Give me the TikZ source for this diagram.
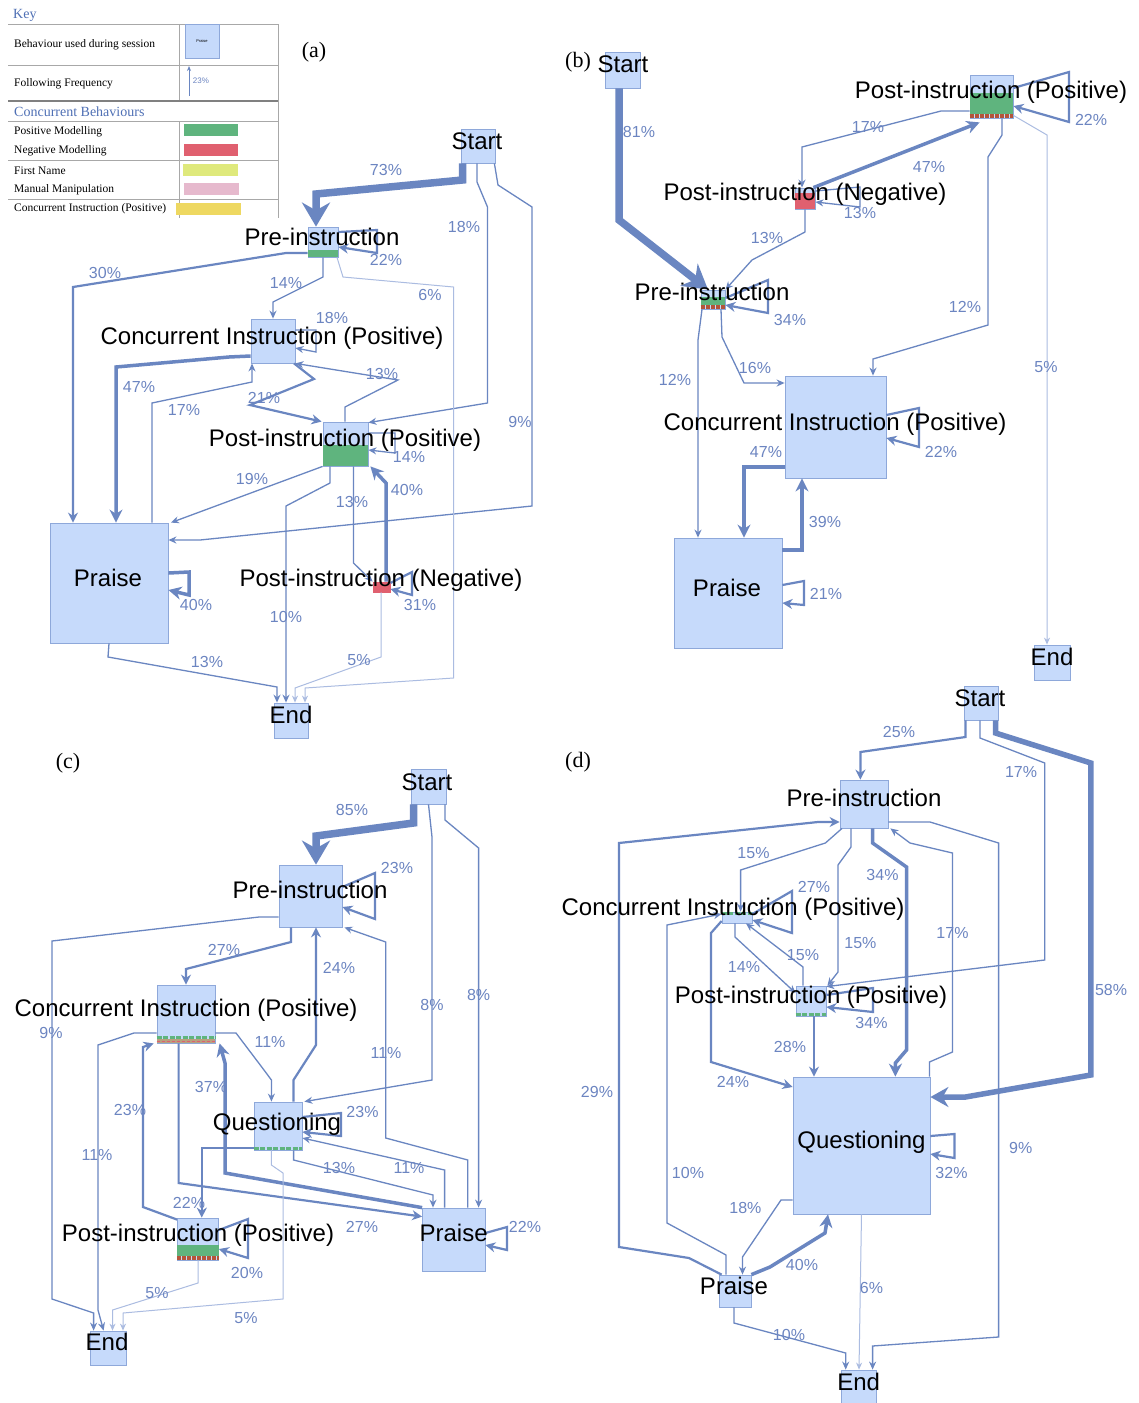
\documentclass[tikz,border=0pt]{standalone}
\usepackage{fontspec}
\setmainfont{Liberation Serif}
\newfontfamily\diagfont{Liberation Sans}
\usepackage{xcolor}
\usepackage{tikz}
\usetikzlibrary{
  arrows.meta
}
\definecolor{BoxFill}{HTML}{C6DAFB}
\definecolor{BoxLine}{HTML}{8EA8DA}
\definecolor{FlowBlue}{HTML}{6A86C1}
\definecolor{FlowLight}{HTML}{ABBCE1}
\definecolor{PctBlue}{HTML}{6C85C1}
\definecolor{KeyBlue}{HTML}{4F70B5}
\definecolor{PosGreen}{HTML}{5FB47E}
\definecolor{NegRed}{HTML}{E0606F}
\definecolor{DotBrown}{HTML}{B4553A}
\definecolor{TanBrown}{HTML}{B9A07E}
\definecolor{NameYellow}{HTML}{DFE97C}
\definecolor{ManualPink}{HTML}{E6B9CD}
\definecolor{CIYellow}{HTML}{EED861}
\definecolor{RuleGray}{HTML}{A8A8A8}
\tikzset{
  behaviour/.style={
    draw=BoxLine,
    fill=BoxFill,
    line width=0.8pt,
    inner sep=0pt
  },
  bname/.style={
    font=\diagfont\fontsize{24}{24}\selectfont,
    inner sep=0pt,
    text height=17pt,
    text depth=0pt
  },
  pct/.style={
    font=\diagfont\fontsize{16}{16}\selectfont,
    text=PctBlue,
    inner sep=0pt,
    text height=11.5pt,
    text depth=0pt
  },
  tag/.style={
    font=\fontsize{22}{22}\selectfont,
    inner sep=0pt
  },
  keytext/.style={
    font=\fontsize{11.5}{11.5}\selectfont,
    anchor=west,
    inner sep=0pt
  },
  keyhead/.style={
    font=\fontsize{14}{14}\selectfont,
    text=KeyBlue,
    anchor=west,
    inner sep=0pt
  },
  flowlight/.style={
    draw=FlowLight,
    line width=1pt,
    -{Stealth[length=7pt,width=6pt]}
  },
  flowthin/.style={
    draw=FlowBlue,
    line width=1.3pt,
    -{Stealth[length=8pt,width=7pt]}
  },
  flow/.style={
    draw=FlowBlue,
    line width=2.2pt,
    -{Stealth[length=10pt,width=10pt]}
  },
  flowthick/.style={
    draw=FlowBlue,
    line width=3.5pt,
    -{Stealth[length=13pt,width=13pt]}
  },
  flowbig/.style={
    draw=FlowBlue,
    line width=5.5pt,
    -{Stealth[length=18pt,width=20pt]}
  },
  flowheavy/.style={
    draw=FlowBlue,
    line width=7.5pt,
    -{Stealth[length=24pt,width=28pt]}
  },
  posbar/.style={
    fill=PosGreen
  },
  posdash/.style={
    draw=PosGreen,
    line width=2.5pt,
    dash pattern=on 5pt off 1.5pt
  },
  dotrule/.style={
    draw=DotBrown,
    line width=4pt,
    dash pattern=on 4pt off 1pt
  }
}

\begin{document}
\begin{tikzpicture}[x=1pt, y=-1pt]

  \path[use as bounding box, fill=white] (0,0) rectangle (1138,1403);

  % key
  \node[keyhead] (keyTitle) at (13,15) {Key};
  \draw[RuleGray, line width=0.8pt]
  (8,24) -- (278,24)
  (8,65) -- (278,65)
  (8,121) -- (278,121)
  (8,160) -- (278,160)
  (8,199) -- (278,199)
  (179,24) -- (179,101)
  (179,121) -- (179,218)
  (278,24) -- (278,218);
  \draw[gray, line width=1.6pt] (8,101) -- (278,101);
  \node[keytext] (keyBeh) at (14,45) {Behaviour used during session};
  \node[keytext] (keyFreq) at (14,84) {Following Frequency};
  \node[keyhead] (keyConc) at (14,112) {Concurrent Behaviours};
  \node[keytext] (keyPosM) at (14,132) {Positive Modelling};
  \node[keytext] (keyNegM) at (14,151) {Negative Modelling};
  \node[keytext] (keyFirst) at (14,171) {First Name};
  \node[keytext] (keyManual) at (14,190) {Manual Manipulation};
  \node[keytext] (keyCI) at (14,209) {Concurrent Instruction (Positive)};
  \node[
    behaviour,
    minimum width=34,
    minimum height=34,
    font=\diagfont\fontsize{4}{4}\selectfont
  ] (keyBox) at (202,41) {Praise};
  \coordinate (keyTail) at (189,96);
  \coordinate (keyHead) at (189,66);
  \draw[
    flowthin,
    line width=1pt,
    -{Stealth[length=5pt,width=4pt]}
  ]
  (keyTail) -- (keyHead)
  node[pct, font=\diagfont\fontsize{8}{8}\selectfont, text height=6pt] at (201,80) {23\%};
  \fill[PosGreen] (184,124) rectangle (238,136);
  \fill[NegRed] (184,144) rectangle (238,156);
  \fill[NameYellow] (183,164) rectangle (238,176);
  \fill[ManualPink] (184,183) rectangle (239,195);
  \fill[CIYellow] (176,203) rectangle (241,215);

  % panel (a)
  \node[tag] (aTag) at (314,52) {(a)};
  \node[
    behaviour,
    minimum width=34,
    minimum height=34
  ] (aStart) at (478,146) {};
  \node[
    behaviour,
    minimum width=30,
    minimum height=30
  ] (aPre) at (323,242) {};
  \node[
    behaviour,
    minimum width=44,
    minimum height=44
  ] (aCI) at (273,341) {};
  \node[
    behaviour,
    minimum width=45,
    minimum height=44
  ] (aPostP) at (345.5,444) {};
  \node[
    behaviour,
    minimum width=118,
    minimum height=120
  ] (aPraise) at (109,583) {};
  \node[
    behaviour,
    draw=NegRed,
    fill=NegRed,
    minimum width=17,
    minimum height=10
  ] (aPostN) at (381.5,587) {};
  \node[
    behaviour,
    minimum width=34,
    minimum height=35
  ] (aEnd) at (291,720.5) {};
  \fill[posbar] (aPre.south west) rectangle ([yshift=7pt]aPre.south east);
  \fill[posbar] (aPostP.south west) rectangle ([yshift=21pt]aPostP.south east);

  \draw[flowheavy]
  (462.5,0 |- aStart.south) -- (462.5,180) -- (316,194) --
  (316,0 |- aPre.north)
  node[pct] at (386,170) {73\%};
  \draw[flowthin]
  (477,0 |- aStart.south) -- (477,182) -- (487.5,207) -- (487.5,403) --
  ([yshift=-1pt]aPostP.north east)
  node[pct] at (464,227) {18\%};
  \draw[flowthin]
  ([xshift=-1pt]aStart.south east) -- (498,185) -- (532,207) -- (532,506) -- (200,540) --
  (aPraise.east |- 0,540)
  node[pct] at (520,422) {9\%};
  \draw[flow]
  (aPre.east |- 0,232) -- (377,230) -- (377,253) --
  (aPre.east |- 0,247)
  node[pct] at (386,260) {22\%};
  \draw[flow]
  (aPre.west |- 0,253) -- (286,253) -- (73,287) --
  (73,0 |- aPraise.north)
  node[pct] at (105,273) {30\%};
  \draw[flowthin]
  (323,0 |- aPre.south) -- (323,277) -- (273,302) --
  (273,0 |- aCI.north)
  node[pct] at (286,283) {14\%};
  \draw[flowlight]
  (337,0 |- aPre.south) -- (343,277) -- (453.5,287) -- (453.5,678) -- (305,688) --
  (305,0 |- aEnd.north)
  node[pct] at (430,295) {6\%};
  \draw[flowthin]
  (aCI.east |- 0,330) -- (316,330) -- (316,352) --
  (aCI.east |- 0,348)
  node[pct] at (332,318) {18\%};
  \draw[flowthick]
  (aCI.west |- 0,356) -- (229,357) -- (116,367) --
  (116,0 |- aPraise.north)
  node[pct] at (139,387) {47\%};
  \draw[flowthin]
  (152,0 |- aPraise.north) -- (152,403) -- (252,382) --
  (252,0 |- aCI.south)
  node[pct] at (184,410) {17\%};
  \draw[flow]
  (294,0 |- aCI.south) -- (314,379) -- (250,405) --
  ([xshift=-1pt]aPostP.north west)
  node[pct] at (264,398) {21\%};
  \draw[flowthin]
  (345,0 |- aPostP.north) -- (345,407) -- (398,380) --
  (aCI.south east)
  node[pct] at (382,374) {13\%};
  \draw[flowthin]
  (aPostP.east |- 0,433) -- (395,433) -- (395,453) --
  (aPostP.east |- 0,450)
  node[pct] at (409,457) {14\%};
  \draw[flowthin]
  (aPostP.south west) --
  (171,0 |- aPraise.north)
  node[pct] at (252,479) {19\%};
  \draw[flowthin]
  (330,0 |- aPostP.south) -- (330,483) -- (286,506) --
  (286,0 |- aEnd.north)
  node[pct] at (286,617) {10\%};
  \draw[flowthin]
  (353.5,0 |- aPostP.south) -- (353.5,563) --
  (aPostN.north west)
  node[pct] at (352,502) {13\%};
  \draw[flowthick]
  (386,0 |- aPostN.north) -- (386,483) --
  ([xshift=2pt]aPostP.south east)
  node[pct] at (407,490) {40\%};
  \draw[flow]
  (aPostN.east |- 0,583) -- (412,572) -- (412,595) --
  (aPostN.east |- 0,589)
  node[pct] at (420,605) {31\%};
  \draw[flowlight]
  (381,0 |- aPostN.south) -- (381,657) -- (295,688) --
  (295,0 |- aEnd.north)
  node[pct] at (359,660) {5\%};
  \draw[flowthick]
  (aPraise.east |- 0,573) -- (189,572) -- (189,595) --
  (aPraise.east |- 0,590)
  node[pct] at (196,605) {40\%};
  \draw[flowthin]
  (aPraise.south) -- (108,657) -- (277,687) --
  (277,0 |- aEnd.north)
  node[pct] at (207,662) {13\%};

  \node[bname] (aStartName) at (477,141) {Start};
  \node[bname] (aPreName) at (322,237) {Pre-instruction};
  \node[bname] (aCIName) at (272,336) {Concurrent Instruction (Positive)};
  \node[bname] (aPostPName) at (345,438) {Post-instruction (Positive)};
  \node[bname] (aPraiseName) at (108,578) {Praise};
  \node[bname] (aPostNName) at (381,578) {Post-instruction (Negative)};
  \node[bname] (aEndName) at (291,715) {End};

  % panel (b)
  \node[tag] (bTag) at (578,62) {(b)};
  \node[
    behaviour,
    minimum width=35,
    minimum height=36
  ] (bStart) at (622.5,70) {};
  \node[
    behaviour,
    minimum width=43,
    minimum height=43
  ] (bPostP) at (991.5,96.5) {};
  \node[
    behaviour,
    minimum width=20,
    minimum height=21
  ] (bPostN) at (805,198.5) {};
  \node[
    behaviour,
    minimum width=24,
    minimum height=19
  ] (bPre) at (713,299.5) {};
  \node[
    behaviour,
    minimum width=101,
    minimum height=102
  ] (bCI) at (835.5,427) {};
  \node[
    behaviour,
    minimum width=108,
    minimum height=110
  ] (bPraise) at (728,593) {};
  \node[
    behaviour,
    minimum width=36,
    minimum height=35
  ] (bEnd) at (1052,662.5) {};
  \fill[posbar] ([yshift=4pt]bPostP.south west) rectangle ([yshift=25pt]bPostP.south east);
  \draw[dotrule] ([yshift=2pt]bPostP.south west) -- ([yshift=2pt]bPostP.south east);
  \fill[NegRed] (bPostN.south west) rectangle ([yshift=16pt]bPostN.south east);
  \fill[posbar] ([yshift=4pt]bPre.south west) rectangle ([yshift=12pt]bPre.south east);
  \draw[dotrule] ([yshift=2pt]bPre.south west) -- ([yshift=2pt]bPre.south east);

  \draw[flowheavy]
  (619,0 |- bStart.south) -- (619,220) --
  ([xshift=-5pt]bPre.north)
  node[pct] at (639,132) {81\%};
  \draw[flowthin]
  (bPostP.west |- 0,111) -- (941,111) -- (802,147) --
  (802,0 |- bPostN.north)
  node[pct] at (868,127) {17\%};
  \draw[flowthick]
  ([xshift=-2pt]bPostN.north east) --
  ([xshift=10pt,yshift=-4pt]bPostP.south west)
  node[pct] at (929,167) {47\%};
  \draw[flow]
  (bPostP.east |- 0,88) -- (1069,72) -- (1069,122) --
  (bPostP.east |- 0,106)
  node[pct] at (1091,120) {22\%};
  \draw[flowthin]
  (bPostN.east |- 0,191) -- (860,187) -- (860,207) --
  (bPostN.east |- 0,202)
  node[pct] at (860,213) {13\%};
  \draw[flowthin]
  (805,0 |- bPostN.south) -- (805,232) -- (752,260) --
  (bPre.north east)
  node[pct] at (767,238) {13\%};
  \draw[flow]
  (bPre.east |- 0,298) -- (768,280) -- (768,313) --
  (bPre.east |- 0,305)
  node[pct] at (790,320) {34\%};
  \draw[flowthin]
  (1002,0 |- bPostP.south) -- (1002,135) -- (988,157) -- (988,325) -- (873,359) --
  (873,0 |- bCI.north)
  node[pct] at (965,307) {12\%};
  \draw[flowlight]
  ([yshift=3pt]bPostP.south east) -- (1047,135) --
  (1047,0 |- bEnd.north)
  node[pct] at (1046,367) {5\%};
  \draw[flowthin]
  (702,0 |- bPre.south) -- (698,340) --
  (698,0 |- bPraise.north)
  node[pct] at (675,380) {12\%};
  \draw[flowthin]
  (721,0 |- bPre.south) -- (722,337) -- (744,383) --
  (bCI.west |- 0,383)
  node[pct] at (755,368) {16\%};
  \draw[flow]
  (bCI.east |- 0,415) -- (919,408) -- (919,447) --
  (bCI.east |- 0,438)
  node[pct] at (941,452) {22\%};
  \draw[flowthick]
  (bCI.west |- 0,467) -- (744,467) --
  (744,0 |- bPraise.north)
  node[pct] at (766,452) {47\%};
  \draw[flowthick]
  (bPraise.east |- 0,550) -- (802,550) --
  (802,0 |- bCI.south)
  node[pct] at (825,522) {39\%};
  \draw[flow]
  (bPraise.east |- 0,585) -- (804,581) -- (804,605) --
  (bPraise.east |- 0,603)
  node[pct] at (826,594) {21\%};

  \node[bname] (bStartName) at (623,64) {Start};
  \node[bname] (bPostPName) at (991,90) {Post-instruction (Positive)};
  \node[bname] (bPostNName) at (805,192) {Post-instruction (Negative)};
  \node[bname] (bPreName) at (712,292) {Pre-instruction};
  \node[bname] (bCIName) at (835,422) {Concurrent Instruction (Positive)};
  \node[bname] (bPraiseName) at (727,588) {Praise};
  \node[bname] (bEndName) at (1052,657) {End};

  % panel (c)
  \node[tag] (cTag) at (68,763) {(c)};
  \node[
    behaviour,
    minimum width=35,
    minimum height=35
  ] (cStart) at (428.5,786.5) {};
  \node[
    behaviour,
    minimum width=63,
    minimum height=62
  ] (cPre) at (310.5,896) {};
  \node[
    behaviour,
    minimum width=58,
    minimum height=58
  ] (cCI) at (186,1014) {};
  \node[
    behaviour,
    minimum width=48,
    minimum height=48
  ] (cQ) at (278,1126) {};
  \node[
    behaviour,
    minimum width=41,
    minimum height=42
  ] (cPostP) at (198,1239) {};
  \node[
    behaviour,
    minimum width=62.5,
    minimum height=63
  ] (cPraise) at (453.75,1239.5) {};
  \node[
    behaviour,
    minimum width=36,
    minimum height=34
  ] (cEnd) at (108,1348) {};
  \fill[TanBrown] (cCI.south west) rectangle ([yshift=4.5pt]cCI.south east);
  \draw[NegRed, line width=1pt, dash pattern=on 3pt off 2pt] ([yshift=2pt]cCI.south west) -- ([yshift=2pt]cCI.south east);
  \draw[posdash] ([yshift=6pt]cCI.south west) -- ([yshift=6pt]cCI.south east);
  \draw[posdash] ([yshift=2pt]cQ.south west) -- ([yshift=2pt]cQ.south east);
  \fill[posbar] ([yshift=4pt]cPostP.south west) rectangle ([yshift=15pt]cPostP.south east);
  \draw[posdash, line width=1.5pt] ([yshift=14pt]cPostP.south west) -- ([yshift=14pt]cPostP.south east);
  \draw[dotrule] ([yshift=2pt]cPostP.south west) -- ([yshift=2pt]cPostP.south east);

  \draw[flowheavy]
  (413.5,0 |- cStart.south) -- (413.5,823) -- (316,836) --
  (316,0 |- cPre.north)
  node[pct] at (352,810) {85\%};
  \draw[flowthin]
  (428.5,0 |- cStart.south) -- (432,837) -- (432,1080) --
  ([xshift=2pt]cQ.north east)
  node[pct] at (432,1005) {8\%};
  \draw[flowthin]
  (445,0 |- cStart.south) -- (445,820) -- (478.6,848) --
  (478.6,0 |- cPraise.north)
  node[pct] at (478.6,995) {8\%};
  \draw[flow]
  (cPre.east |- 0,887) -- (375,873) -- (375,919) --
  (cPre.east |- 0,907)
  node[pct] at (397,868) {23\%};
  \draw[flow]
  (291,0 |- cPre.south) -- (291,942) -- (186,969) --
  (186,0 |- cCI.north)
  node[pct] at (224,950) {27\%};
  \draw[flowthin]
  (cPre.west |- 0,917) -- (259,917) -- (52,941) -- (52,1299) -- (93.6,1313) --
  (93.6,0 |- cEnd.north)
  node[pct] at (51,1033) {9\%};
  \draw[flow]
  (293.5,0 |- cQ.north) -- (293.5,1080) -- (316,1045) --
  (316,0 |- cPre.south)
  node[pct] at (339,968) {24\%};
  \draw[flowthin]
  (467.8,0 |- cPraise.north) -- (467.8,1160) -- (385.7,1138) -- (385.7,942) --
  ([xshift=2pt]cPre.south east)
  node[pct] at (386,1053) {11\%};
  \draw[flowthin]
  (cCI.east |- 0,1033) -- (236,1033) -- (264,1070) -- (271.4,1080) --
  (271.4,0 |- cQ.north)
  node[pct] at (270,1042) {11\%};
  \draw[flowthin]
  (cCI.west |- 0,1033) -- (134,1033) -- (98,1045) -- (98,1310) --
  (103.6,0 |- cEnd.north)
  node[pct] at (97,1155) {11\%};
  \draw[flow]
  ([yshift=-2pt]cPostP.north west) -- (143,1207) -- (143,1047) --
  ([xshift=-3pt]cCI.south west)
  node[pct] at (130,1110) {23\%};
  \draw[flow]
  (178.6,0 |- cCI.south) -- (178.6,1183) --
  ([yshift=-9pt]cPraise.north west)
  node[pct] at (362,1227) {27\%};
  \draw[flowthick]
  (cPraise.north west) -- (225,1173) -- (225,1063) --
  (219.6,0 |- cCI.south)
  node[pct] at (211,1087) {37\%};
  \draw[flow]
  (cQ.west |- 0,1148) -- (201.8,1148) --
  (201.8,0 |- cPostP.north)
  node[pct] at (189,1203) {22\%};
  \draw[flow]
  (cQ.east |- 0,1117) -- (341,1113) -- (341,1136) --
  (cQ.east |- 0,1132)
  node[pct] at (362.5,1112) {23\%};
  \draw[flowthin]
  (293.6,0 |- cQ.south) -- (293.6,1160) -- (433,1195) --
  (433,0 |- cPraise.north)
  node[pct] at (339,1168) {13\%};
  \draw[flowthin]
  (444.6,0 |- cPraise.north) -- (444.6,1170) --
  (cQ.east |- 0,1138)
  node[pct] at (409,1168) {11\%};
  \draw[flowlight]
  (271.4,0 |- cQ.south) -- (271.4,1165) -- (283,1173) -- (283,1299) -- (123,1313) --
  (123,0 |- cEnd.north)
  node[pct] at (246,1318) {5\%};
  \draw[flow]
  (cPostP.east |- 0,1230) -- (248,1219) -- (248,1258) --
  (cPostP.east |- 0,1249)
  node[pct] at (247,1273) {20\%};
  \draw[flowlight]
  (198,0 |- cPostP.south) -- (198,1283) -- (112.5,1310) --
  (112.5,0 |- cEnd.north)
  node[pct] at (157,1293) {5\%};
  \draw[flow]
  (cPraise.east |- 0,1233) -- (507,1227) -- (507,1250) --
  (cPraise.east |- 0,1245)
  node[pct] at (525,1227) {22\%};

  \node[bname] (cStartName) at (427,782) {Start};
  \node[bname] (cPreName) at (310,890) {Pre-instruction};
  \node[bname] (cCIName) at (186,1008) {Concurrent Instruction (Positive)};
  \node[bname] (cQName) at (277,1122) {Questioning};
  \node[bname] (cPostPName) at (198,1233) {Post-instruction (Positive)};
  \node[bname] (cPraiseName) at (453.6,1233) {Praise};
  \node[bname] (cEndName) at (107,1342) {End};

  % panel (d)
  \node[tag] (dTag) at (578,762) {(d)};
  \node[
    behaviour,
    minimum width=34,
    minimum height=34
  ] (dStart) at (981.6,703) {};
  \node[
    behaviour,
    minimum width=48,
    minimum height=48
  ] (dPre) at (864,804) {};
  \node[
    behaviour,
    minimum width=30,
    minimum height=11
  ] (dCI) at (737,917.5) {};
  \node[
    behaviour,
    minimum width=30,
    minimum height=30
  ] (dPostP) at (811,1001) {};
  \node[
    behaviour,
    minimum width=137,
    minimum height=137
  ] (dQ) at (861.5,1145.5) {};
  \node[
    behaviour,
    minimum width=32,
    minimum height=32
  ] (dPraise) at (735,1291) {};
  \node[
    behaviour,
    minimum width=35,
    minimum height=33
  ] (dEnd) at (858.5,1386.5) {};
  \draw[posdash] ([yshift=-2pt]dCI.north west) -- ([yshift=-2pt]dCI.north east);
  \draw[posdash] ([yshift=2pt]dPostP.south west) -- ([yshift=2pt]dPostP.south east);

  \draw[flow]
  (965.5,0 |- dStart.south) -- (965.5,737) -- (860.4,752) --
  (860.4,0 |- dPre.north)
  node[pct] at (899,732) {25\%};
  \draw[flowthin]
  (980,0 |- dStart.south) -- (980,738) -- (1044.7,763) -- (1044.7,960) --
  ([yshift=-1pt]dPostP.north east)
  node[pct] at (1021,772) {17\%};
  \draw[flowbig]
  (995.5,0 |- dStart.south) -- (995.5,733) -- (1090.8,763) -- (1090.8,1075) -- (965.5,1097) --
  (dQ.east |- 0,1097)
  node[pct] at (1111,990) {58\%};
  \draw[flowthin]
  (842,0 |- dPre.south) -- (825.4,843) -- (740.6,870) --
  (740.6,0 |- dCI.north)
  node[pct] at (753.5,853) {15\%};
  \draw[flowthin]
  (851,0 |- dPre.south) -- (851,847) -- (838,865) -- (838,972) --
  ([xshift=1pt]dPostP.north east)
  node[pct] at (860.4,943) {15\%};
  \draw[flowthick]
  (872.6,0 |- dPre.south) -- (872.6,843) -- (906.5,867) -- (906.5,1050) -- (895.4,1063) --
  (895.4,0 |- dQ.north)
  node[pct] at (882.5,875) {34\%};
  \draw[flowthin]
  ([xshift=-1pt]dQ.north east) -- (929.4,1062) -- (952.5,1052) -- (952.5,853) -- (910,843) --
  ([xshift=2pt]dPre.south east)
  node[pct] at (952.5,933) {17\%};
  \draw[flowthin]
  (dPre.east |- 0,822) -- (930,822) -- (998.6,843) -- (998.6,1337) -- (872.6,1346) --
  (872.6,0 |- dEnd.north)
  node[pct] at (1020.7,1148) {9\%};
  \draw[flow]
  ([xshift=3pt]dPraise.north west) -- (689,1258) -- (619,1247) -- (619,843) -- (818,822) --
  (dPre.west |- 0,822)
  node[pct] at (597,1092) {29\%};
  \draw[flow]
  (dCI.east |- 0,914) -- (792,891) -- (792,933) --
  (dCI.east |- 0,920)
  node[pct] at (814,887) {27\%};
  \draw[flowthin]
  (735,0 |- dCI.south) -- (735,937) --
  (dPostP.west |- 0,993)
  node[pct] at (744,967) {14\%};
  \draw[flowthin]
  (803,0 |- dPostP.north) -- (803,967) --
  (746,0 |- dCI.south)
  node[pct] at (803,955) {15\%};
  \draw[flow]
  (dCI.west |- 0,921) -- (711,933) -- (711,1062) --
  (dQ.west |- 0,1087)
  node[pct] at (733,1082) {24\%};
  \draw[flowthin]
  (726,0 |- dPraise.north) -- (726,1255) -- (667,1223) -- (667,925) --
  (dCI.west |- 0,914)
  node[pct] at (688,1173) {10\%};
  \draw[flow]
  (dPostP.east |- 0,995) -- (873,988) -- (873,1012) --
  (dPostP.east |- 0,1007)
  node[pct] at (871.5,1023) {34\%};
  \draw[flow]
  (814,0 |- dPostP.south) --
  (814,0 |- dQ.north)
  node[pct] at (790,1047) {28\%};
  \draw[flow]
  (dQ.east |- 0,1136) -- (954.4,1134) -- (954.4,1158) --
  (dQ.east |- 0,1154)
  node[pct] at (951.5,1173) {32\%};
  \draw[flowthin]
  (dQ.west |- 0,1200) -- (781,1200) -- (742.5,1257) --
  (742.5,0 |- dPraise.north)
  node[pct] at (745.4,1208) {18\%};
  \draw[flowthick]
  (dPraise.north east) -- (770,1267) -- (825,1233) --
  (828,0 |- dQ.south)
  node[pct] at (802,1265) {40\%};
  \draw[flowlight]
  (861.5,0 |- dQ.south) --
  (859,0 |- dEnd.north)
  node[pct] at (871.5,1288) {6\%};
  \draw[flowthin]
  (734,0 |- dPraise.south) -- (734,1323) -- (845.7,1353) --
  (845.7,0 |- dEnd.north)
  node[pct] at (789,1335) {10\%};

  \node[bname] (dStartName) at (980,698) {Start};
  \node[bname] (dPreName) at (864,798) {Pre-instruction};
  \node[bname] (dCIName) at (733,907) {Concurrent Instruction (Positive)};
  \node[bname] (dPostPName) at (811,995) {Post-instruction (Positive)};
  \node[bname] (dQName) at (861.5,1140) {Questioning};
  \node[bname] (dPraiseName) at (734,1286) {Praise};
  \node[bname] (dEndName) at (858.6,1382) {End};

\end{tikzpicture}
\end{document}
